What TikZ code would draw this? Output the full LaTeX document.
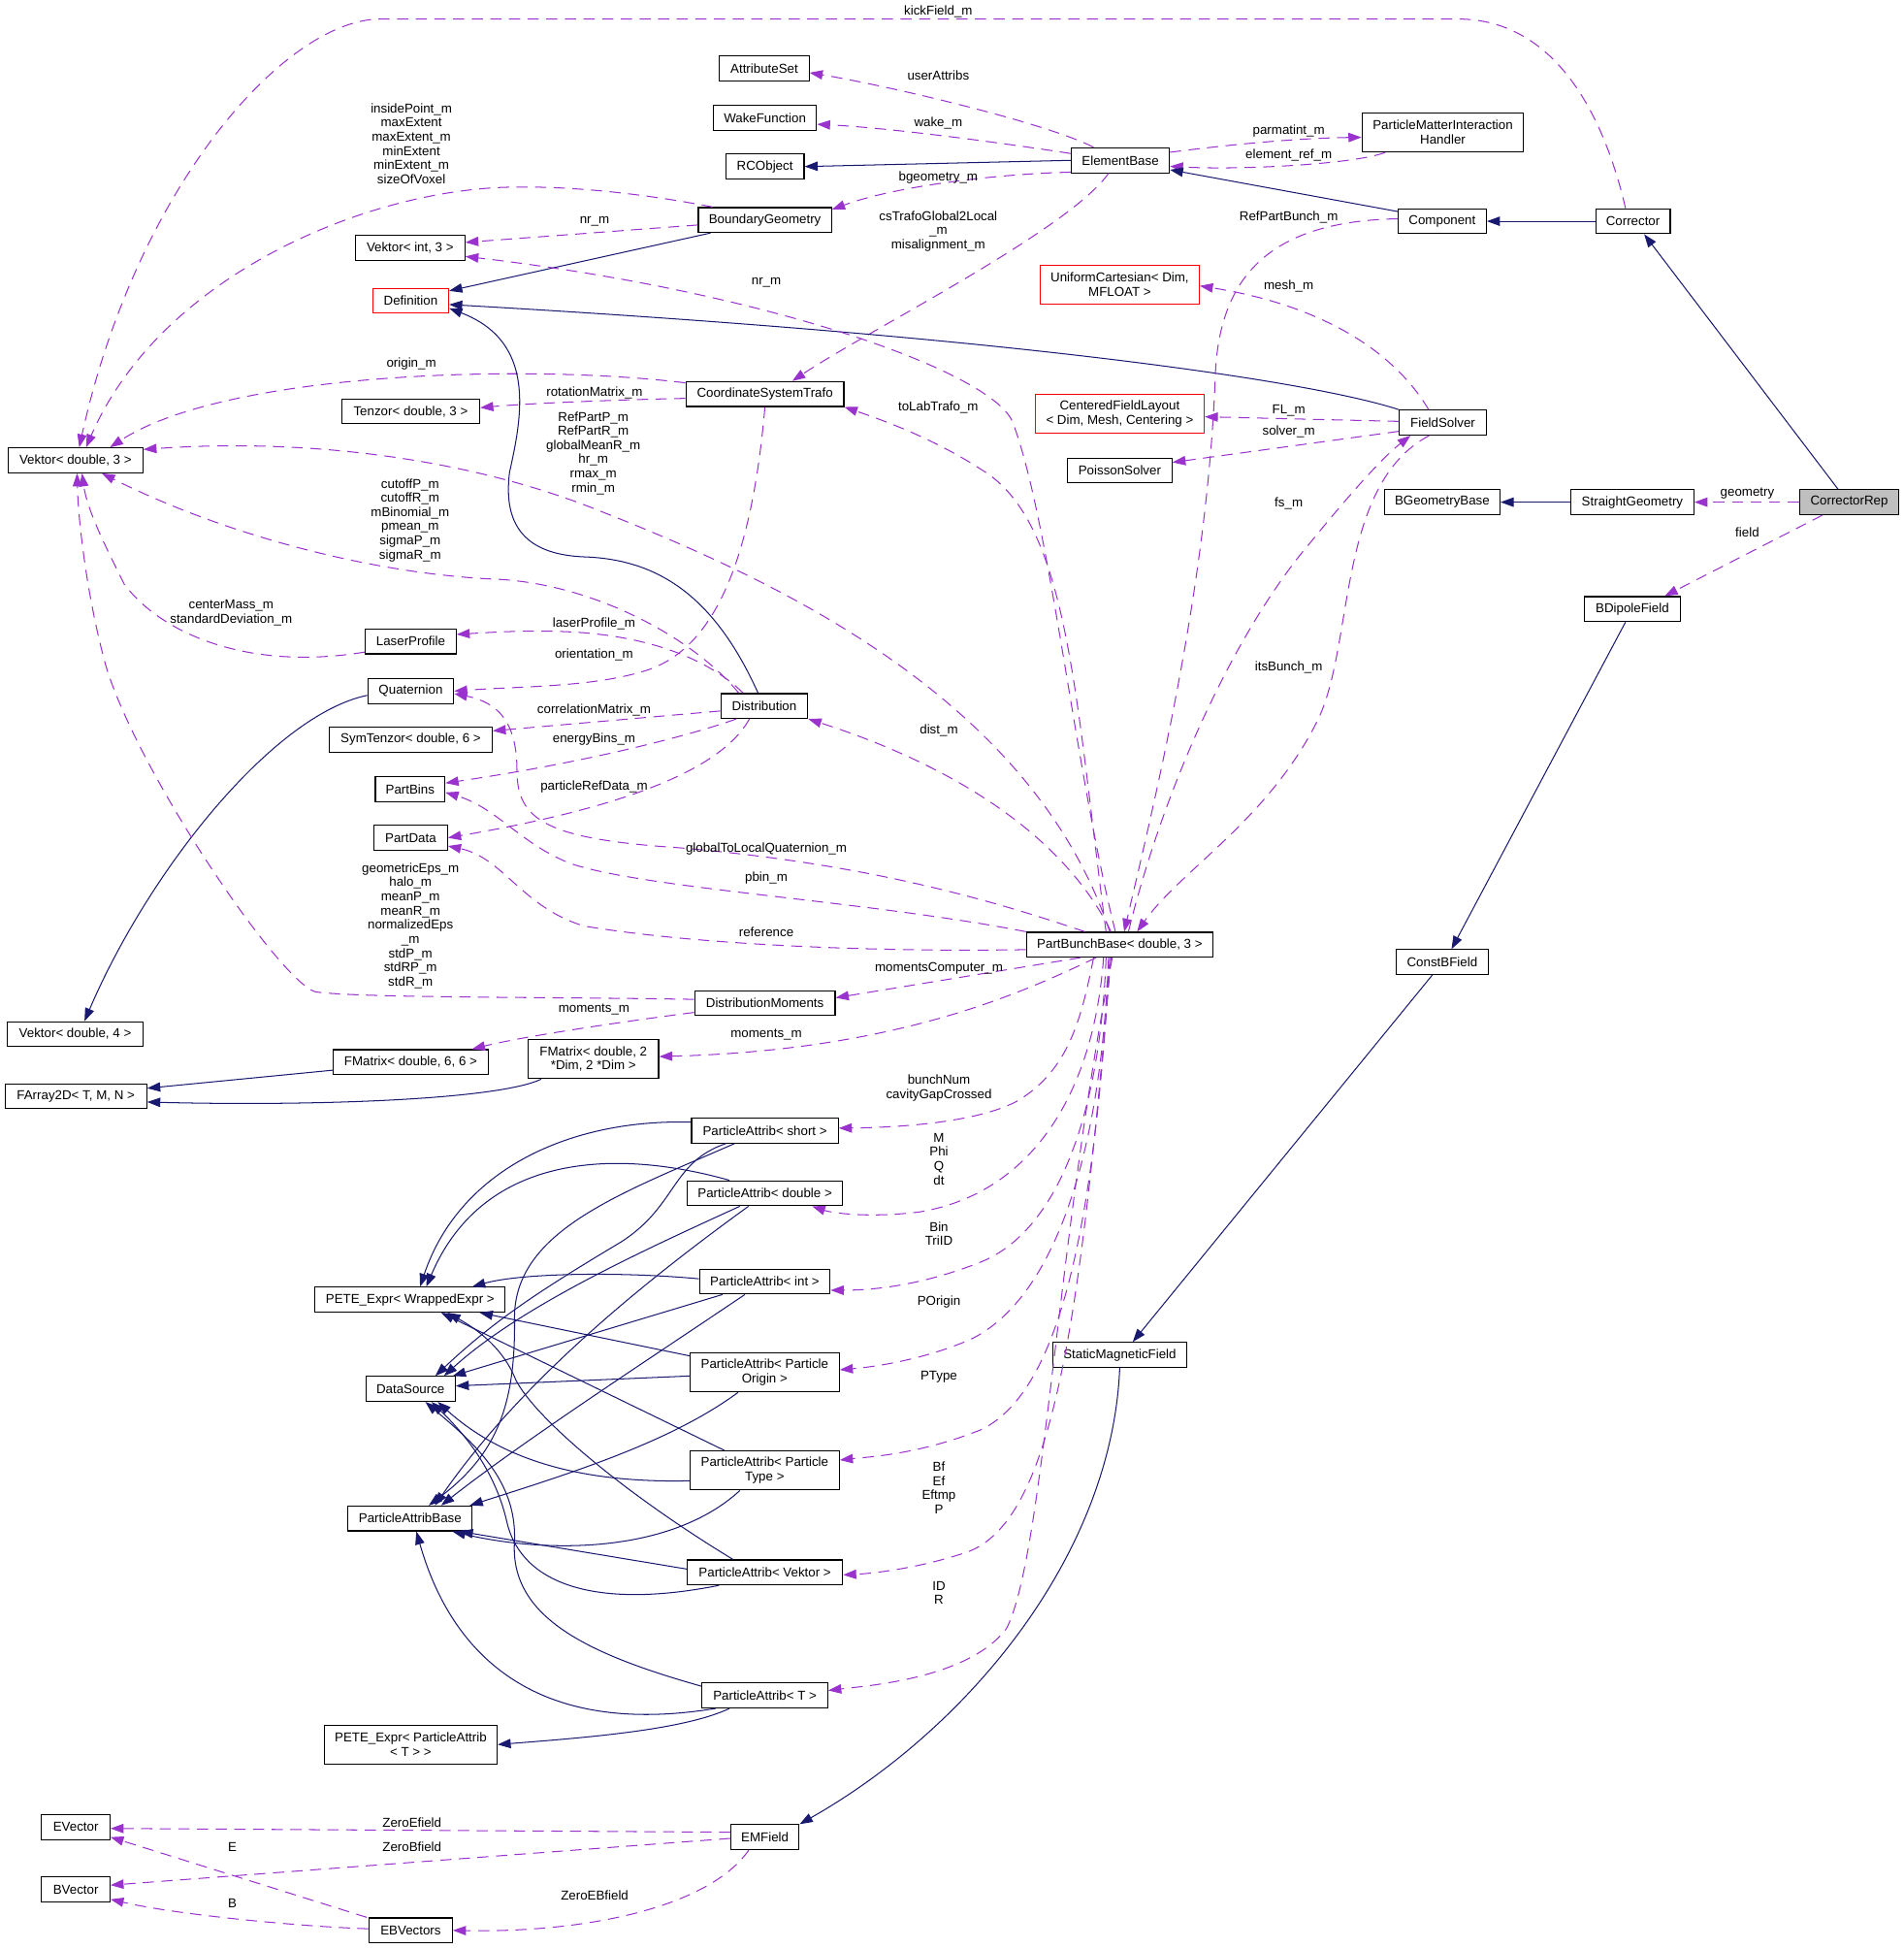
\documentclass[tikz,border=0pt]{standalone}
\usepackage{fontspec}
\setmainfont{Liberation Sans}
\usetikzlibrary{arrows.meta}
\definecolor{navyedge}{HTML}{191970}
\definecolor{orchidedge}{HTML}{9A32CD}
\definecolor{focusgray}{HTML}{BFBFBF}
\newcommand{\dxfont}{\fontsize{10.4pt}{11.4pt}\selectfont}
\tikzset{
  class box/.style = {draw=black, line width=0.9pt, fill=white, inner xsep=3pt,
                      inner ysep=2pt, minimum height=20pt, align=center, font=\dxfont},
  trunc box/.style = {class box, draw=red},
  focus box/.style = {class box, fill=focusgray},
  two line/.style  = {minimum height=31.5pt},
  inherit/.style   = {color=navyedge, line width=0.8pt, -{Triangle[length=10.5pt,width=7.5pt]}},
  member/.style    = {color=orchidedge, line width=0.8pt, dash pattern=on 9pt off 6pt,
                      -{Triangle[length=10.5pt,width=7.5pt]}},
  mlabel/.style    = {font=\dxfont, align=center, inner sep=0pt},
}

\begin{document}
\begin{tikzpicture}[x=1pt,y=-1pt]
  \useasboundingbox (0,0) rectangle (1532,1568);

  % classes, upper part
  \node[class box, minimum width=72pt]  (attrset)   at (615,55)    {AttributeSet};
  \node[class box, minimum width=83pt]  (wakefn)    at (615.5,95)  {WakeFunction};
  \node[class box, minimum width=63pt]  (rcobj)     at (615.5,134) {RCObject};
  \node[class box, minimum width=79pt]  (elembase)  at (901.5,129) {ElementBase};
  \node[class box, two line, minimum width=130pt] (pmih) at (1161,106.5) {ParticleMatterInteraction\\Handler};
  \node[class box, minimum width=107pt] (bgeom)     at (615.5,177) {BoundaryGeometry};
  \node[class box, minimum width=88pt]  (vint3)     at (330,199.5) {Vektor< int, 3 >};
  \node[trunc box, minimum width=61pt]  (defn)      at (330.5,242) {Definition};
  \node[class box, minimum width=71pt]  (component) at (1160.5,178) {Component};
  \node[class box, minimum width=60pt]  (corrector) at (1314,178)  {Corrector};
  \node[trunc box, two line, minimum width=128pt] (unicart) at (901,229) {UniformCartesian< Dim,\\MFLOAT >};
  \node[class box, minimum width=127pt] (cstrafo)   at (615.5,317) {CoordinateSystemTrafo};
  \node[class box, minimum width=111pt] (tenzor3)   at (330.5,331) {Tenzor< double, 3 >};
  \node[class box, minimum width=108.5pt] (vdbl3)   at (60.75,370.35) {Vektor< double, 3 >};
  \node[trunc box, two line, minimum width=136pt] (cflayout) at (901,333) {CenteredFieldLayout\\< Dim, Mesh, Centering >};
  \node[class box, minimum width=84pt]  (poisson)   at (901,378.5) {PoissonSolver};
  \node[class box, minimum width=70pt]  (fsolver)   at (1161,340)  {FieldSolver};
  \node[class box, minimum width=93pt]  (bgeombase) at (1160.5,404) {BGeometryBase};
  \node[class box, minimum width=99pt]  (straightgeom) at (1313.5,404) {StraightGeometry};
  \node[focus box, minimum width=80pt]  (corrrep)   at (1488,404)  {CorrectorRep};
  \node[class box, minimum width=77pt]  (bdipole)   at (1313.5,490) {BDipoleField};

  % classes, middle part
  \node[class box, minimum width=73pt]  (laserprof) at (330.5,516) {LaserProfile};
  \node[class box, minimum width=69pt]  (quatern)   at (330.5,556) {Quaternion};
  \node[class box, minimum width=70pt]  (distrib)   at (615,568)   {Distribution};
  \node[class box, minimum width=131pt] (symtenz)   at (330.5,595) {SymTenzor< double, 6 >};
  \node[class box, minimum width=56pt]  (partbins)  at (330,635)   {PartBins};
  \node[class box, minimum width=59pt]  (partdata)  at (330.5,674) {PartData};
  \node[class box, minimum width=150pt] (pbb)       at (901,760)   {PartBunchBase< double, 3 >};
  \node[class box, minimum width=74pt]  (constb)    at (1160.5,774) {ConstBField};
  \node[class box, minimum width=113pt] (distmom)   at (615.5,807) {DistributionMoments};
  \node[class box, minimum width=109pt] (vdbl4)     at (60.5,832)  {Vektor< double, 4 >};
  \node[class box, minimum width=125pt] (fmat66)    at (330.5,854.5) {FMatrix< double, 6, 6 >};
  \node[class box, two line, minimum width=105pt] (fmat2d) at (477.5,852) {FMatrix< double, 2\\*Dim, 2 *Dim >};
  \node[class box, minimum width=114pt] (farray)    at (61,882)    {FArray2D< T, M, N >};

  % classes, lower part
  \node[class box, minimum width=118pt] (pashort)   at (615.5,909.5) {ParticleAttrib< short >};
  \node[class box, minimum width=125pt] (padouble)  at (615.5,960)  {ParticleAttrib< double >};
  \node[class box, minimum width=153pt] (pete)      at (330,1045.6) {PETE\_Expr< WrappedExpr >};
  \node[class box, minimum width=105pt] (paint)     at (615.4,1031) {ParticleAttrib< int >};
  \node[class box, minimum width=72pt]  (datasrc)   at (330.3,1117.4) {DataSource};
  \node[class box, two line, minimum width=120pt] (paorigin) at (615.3,1104) {ParticleAttrib< Particle\\Origin >};
  \node[class box, minimum width=108pt] (staticmag) at (901,1090)   {StaticMagneticField};
  \node[class box, two line, minimum width=120pt] (patype) at (615.3,1183) {ParticleAttrib< Particle\\Type >};
  \node[class box, minimum width=100pt] (pabase)    at (330,1221.6) {ParticleAttribBase};
  \node[class box, minimum width=125pt] (pavektor)  at (615.5,1265) {ParticleAttrib< Vektor >};
  \node[class box, minimum width=101pt] (pat)       at (615.5,1364) {ParticleAttrib< T >};
  \node[class box, two line, minimum width=139pt] (petepat) at (330.5,1403.5) {PETE\_Expr< ParticleAttrib\\< T > >};
  \node[class box, minimum width=55pt]  (evector)   at (61,1470)    {EVector};
  \node[class box, minimum width=55pt]  (emfield)   at (615.5,1478) {EMField};
  \node[class box, minimum width=55pt]  (bvector)   at (61,1520)    {BVector};
  \node[class box, minimum width=67pt]  (ebvectors) at (330.5,1553) {EBVectors};

  % ElementBase
  \draw[member] ([xshift=-21.5pt]elembase.north) .. controls (845,100) and (720,70) .. ([yshift=-3.5pt]attrset.east);
  \draw[member] ([yshift=5.5pt]elembase.west) .. controls (820,117) and (720,103) .. ([yshift=-5pt]wakefn.east);
  \draw[inherit] (elembase.west) -- (rcobj.east);
  \draw[member] ([yshift=-9.5pt]elembase.west) .. controls (800,140) and (720,150) .. ([yshift=-2pt]bgeom.north east);
  \draw[member] ([xshift=-9.5pt]elembase.south) .. controls (860,185) and (700,265) .. ([xshift=22pt]cstrafo.north);
  \draw[member] ([yshift=6.5pt]elembase.east) .. controls (1000,115) and (1050,111) .. ([yshift=-4pt]pmih.west);
  \draw[member] ([xshift=19pt]pmih.south west) .. controls (1090,132) and (1000,137) .. ([yshift=-4.8pt]elembase.east);
  \draw[inherit] ([yshift=-2.6pt]component.north west) -- ([yshift=-7.6pt]elembase.east);
  \draw[inherit] (corrector.west) -- (component.east);

  % Corrector and CorrectorRep
  \draw[member] ([xshift=-6pt]corrector.north) .. controls (1290,90) and (1250,15.3) .. (1173,15.3)
                -- (306.6,15.3) .. controls (230,15) and (110,150) .. ([xshift=3pt]vdbl3.north);
  \draw[inherit] ([xshift=-9pt]corrrep.north) -- ([xshift=9pt]corrector.south);
  \draw[member] (corrrep.west) -- (straightgeom.east);
  \draw[member] ([xshift=-21.5pt]corrrep.south) -- ([xshift=26pt]bdipole.north);
  \draw[inherit] (straightgeom.west) -- (bgeombase.east);
  \draw[inherit] ([xshift=-5.5pt]bdipole.south) -- ([xshift=7.5pt]constb.north);
  \draw[inherit] ([xshift=-8pt]constb.south) -- ([xshift=10.5pt]staticmag.north);
  \draw[inherit] (staticmag.south) .. controls (895,1250) and (780,1390) .. (emfield.north east);

  % FieldSolver
  \draw[inherit] (fsolver.north west) .. controls (1050,305) and (800,270) .. ([yshift=-3pt]defn.east);
  \draw[member] ([xshift=-11.4pt]fsolver.north) .. controls (1120,280) and (1060,245) .. ([yshift=-1pt]unicart.east);
  \draw[member] ([yshift=1pt]fsolver.west) -- ([yshift=-2.3pt]cflayout.east);
  \draw[member] ([yshift=-7pt]fsolver.west) -- ([yshift=6.5pt]poisson.east);
  \draw[member] ([xshift=7pt]pbb.north) .. controls (940,620) and (1000,500) .. (1054,437)
                .. controls (1080,405) and (1110,370) .. ([xshift=-26pt]fsolver.south);
  \draw[member] ([xshift=-11pt]fsolver.south) .. controls (1075,390) and (1090,520) .. (1060,580)
                .. controls (1020,660) and (950,700) .. ([xshift=14pt]pbb.north);
  \draw[member] ([yshift=2pt]component.west) .. controls (1030,178) and (982,215) .. (978,300)
                .. controls (972,470) and (930,640) .. ([xshift=3.6pt]pbb.north);

  % BoundaryGeometry
  \draw[inherit] ([xshift=-43.7pt]bgeom.south) -- ([yshift=8pt]defn.east);
  \draw[member] ([yshift=-4pt]bgeom.west) -- ([yshift=4.5pt]vint3.east);
  \draw[member] ([xshift=-42pt]bgeom.north) .. controls (530,158) and (470,150) .. (418,150.5)
                .. controls (300,150) and (130,220) .. ([xshift=8.5pt]vdbl3.north);

  % CoordinateSystemTrafo
  \draw[member] ([yshift=9pt]cstrafo.west) .. controls (420,292) and (180,300) .. ([xshift=27.75pt]vdbl3.north);
  \draw[member] ([yshift=-3.5pt]cstrafo.west) .. controls (480,322) and (420,325) .. ([yshift=3pt]tenzor3.east);
  \draw[member] (cstrafo.south) .. controls (605,450) and (575,520) .. (522.6,538.5)
                .. controls (480,553) and (420,552) .. (quatern.east);

  % PartBunchBase, upper members
  \draw[member] ([xshift=-3.5pt]pbb.north) .. controls (865,620) and (845,420) .. (815,340)
                .. controls (800,300) and (620,235) .. ([yshift=-6.8pt]vint3.east);
  \draw[member] ([xshift=-11pt]pbb.north) .. controls (865,560) and (860,420) .. (790,378)
                .. controls (750,352) and (710,338) .. (cstrafo.south east);
  \draw[member] ([xshift=-8pt]pbb.north) .. controls (830,560) and (620,465) .. (480,410)
                .. controls (380,370) and (250,352) .. ([yshift=8.75pt]vdbl3.east);
  \draw[member] ([xshift=-7pt]pbb.north) .. controls (860,680) and (780,620) .. (distrib.south east);
  \draw[member] ([xshift=-28pt]pbb.north) .. controls (800,725) and (700,695) .. (546,682)
                .. controls (440,675) and (416,660) .. (416,620)
                .. controls (416,580) and (400,565) .. ([yshift=-2pt]quatern.east);
  \draw[member] (pbb.north west) .. controls (700,725) and (520,715) .. (460,695)
                .. controls (420,680) and (400,650) .. ([yshift=-2.5pt]partbins.east);
  \draw[member] ([yshift=-4pt]pbb.west) .. controls (700,766) and (560,760) .. (470,745)
                .. controls (420,730) and (405,690) .. ([yshift=-6.6pt]partdata.east);
  \draw[member] ([xshift=-31.6pt]pbb.south) -- ([yshift=4.3pt]distmom.east);
  \draw[member] ([xshift=-19pt]pbb.south) .. controls (820,800) and (720,845) .. ([yshift=2pt]fmat2d.east);

  % Distribution
  \draw[inherit] ([xshift=-5pt]distrib.north) .. controls (575,480) and (530,450) .. (470,448)
                 .. controls (420,446) and (405,420) .. (410,380)
                 .. controls (420,335) and (432,275) .. ([yshift=-6pt]defn.east);
  \draw[member] ([xshift=-20.6pt]distrib.north) .. controls (560,515) and (480,470) .. (400,466)
                .. controls (300,462) and (180,430) .. ([xshift=21.25pt]vdbl3.south);
  \draw[member] ([xshift=-17pt]distrib.north) .. controls (570,530) and (520,510) .. (450,508)
                .. controls (420,507) and (390,509) .. ([yshift=5.6pt]laserprof.east);
  \draw[member] ([yshift=-4pt]distrib.west) -- ([yshift=7pt]symtenz.east);
  \draw[member] ([xshift=-22.6pt]distrib.south) .. controls (560,590) and (480,612) .. ([yshift=5pt]partbins.east);
  \draw[member] ([xshift=-12pt]distrib.south) .. controls (580,620) and (500,650) .. (partdata.east);

  % LaserProfile, Quaternion, DistributionMoments
  \draw[member] ([yshift=-8.6pt]laserprof.west) .. controls (200,540) and (130,510) .. (100,470)
                .. controls (85,440) and (70,410) .. ([xshift=5.25pt]vdbl3.south);
  \draw[inherit] ([yshift=-3.4pt]quatern.west) .. controls (220,575) and (120,700) .. ([xshift=7.5pt]vdbl4.north);
  \draw[member] ([yshift=3pt]distmom.west) .. controls (450,802) and (290,803) .. (254,798)
                .. controls (225,790) and (110,620) .. (85,535)
                .. controls (70,480) and (63,420) .. ([xshift=1.25pt]vdbl3.south);
  \draw[member] ([yshift=-7.5pt]distmom.west) .. controls (500,822) and (420,834) .. ([xshift=49.3pt]fmat66.north);

  % FMatrix
  \draw[inherit] ([yshift=-6.5pt]fmat66.west) -- ([yshift=6.5pt]farray.east);
  \draw[inherit] ([xshift=-42pt]fmat2d.south) .. controls (400,885) and (250,890) .. ([yshift=-4.6pt]farray.east);

  % PartBunchBase, particle attributes
  \draw[member] ([xshift=-21pt]pbb.south) .. controls (870,820) and (860,860) .. (820,885)
                .. controls (790,902) and (730,907) .. ([yshift=1.9pt]pashort.east);
  \draw[member] ([xshift=-13pt]pbb.south) .. controls (880,880) and (830,960) .. (740,975)
                .. controls (700,980) and (670,976) .. ([xshift=38pt]padouble.south);
  \draw[member] ([xshift=-11pt]pbb.south) .. controls (885,900) and (850,990) .. (790,1015)
                .. controls (740,1035) and (700,1038) .. ([yshift=-7pt]paint.east);
  \draw[member] ([xshift=-9pt]pbb.south) .. controls (885,950) and (840,1050) .. (780,1078)
                .. controls (740,1095) and (700,1100) .. ([yshift=2pt]paorigin.east);
  \draw[member] ([xshift=-8pt]pbb.south) .. controls (880,1000) and (850,1120) .. (790,1150)
                .. controls (740,1170) and (700,1172) .. ([yshift=8.4pt]patype.east);
  \draw[member] ([xshift=-7pt]pbb.south) .. controls (870,1050) and (850,1220) .. (780,1248)
                .. controls (740,1262) and (700,1266) .. ([yshift=-2pt]pavektor.east);
  \draw[member] ([xshift=-6pt]pbb.south) .. controls (850,1000) and (840,1250) .. (810,1310)
                .. controls (780,1350) and (700,1356) .. ([yshift=4pt]pat.east);

  % ParticleAttrib bases
  \draw[inherit] ([yshift=6.7pt]pashort.west) .. controls (460,900) and (370,940) .. ([xshift=8pt]pete.north);
  \draw[inherit] ([xshift=-28.5pt]padouble.north) .. controls (500,925) and (390,925) .. ([xshift=13pt]pete.north);
  \draw[inherit] ([yshift=2.2pt]paint.west) .. controls (500,1023) and (420,1024) .. ([xshift=50pt]pete.north);
  \draw[inherit] ([yshift=-3pt]paorigin.north west) -- ([xshift=56pt]pete.south);
  \draw[inherit] ([xshift=-32.5pt]patype.north) -- ([xshift=25pt]pete.south);
  \draw[inherit] ([xshift=-25.7pt]pavektor.north) .. controls (500,1200) and (430,1140) .. (415,1110)
                 .. controls (405,1085) and (385,1070) .. ([xshift=30pt]pete.south);
  \draw[inherit] ([xshift=-31.3pt]pashort.south) .. controls (540,935) and (545,970) .. (500,999)
                 .. controls (440,1035) and (400,1060) .. ([xshift=20pt]datasrc.north);
  \draw[inherit] ([xshift=-20.2pt]padouble.south) .. controls (520,1005) and (420,1050) .. ([xshift=27pt]datasrc.north);
  \draw[inherit] ([xshift=-34pt]paint.south) -- ([xshift=34pt]datasrc.north);
  \draw[inherit] ([yshift=-3pt]paorigin.west) -- ([yshift=2.4pt]datasrc.east);
  \draw[inherit] ([yshift=-8.3pt]patype.west) .. controls (480,1193) and (410,1180) .. ([xshift=22pt]datasrc.south);
  \draw[inherit] ([xshift=-36.9pt]pavektor.south) .. controls (480,1295) and (420,1275) .. (408,1225)
                 .. controls (398,1180) and (370,1150) .. ([xshift=17pt]datasrc.south);
  \draw[inherit] ([yshift=7.4pt]pat.west) .. controls (470,1330) and (410,1300) .. (414,1240)
                 .. controls (416,1190) and (380,1160) .. ([xshift=12pt]datasrc.south);
  \draw[inherit] ([xshift=-24.3pt]pashort.south) .. controls (500,960) and (414,990) .. (414,1060)
                 .. controls (415,1130) and (400,1170) .. ([xshift=15pt]pabase.north);
  \draw[inherit] ([xshift=-13.2pt]padouble.south) .. controls (520,1030) and (420,1110) .. ([xshift=20pt]pabase.north);
  \draw[inherit] ([xshift=-16pt]paint.south) .. controls (520,1095) and (420,1160) .. ([xshift=25pt]pabase.north);
  \draw[inherit] ([xshift=-21.4pt]paorigin.south) .. controls (540,1160) and (460,1185) .. ([xshift=48pt]pabase.north);
  \draw[inherit] ([xshift=-20pt]patype.south) .. controls (540,1250) and (440,1250) .. ([xshift=34pt]pabase.south);
  \draw[inherit] ([yshift=2.7pt]pavektor.west) -- ([xshift=40pt]pabase.south);
  \draw[inherit] ([xshift=-39.7pt]pat.south) .. controls (420,1400) and (360,1320) .. ([xshift=5pt]pabase.south);
  \draw[inherit] ([xshift=-28.5pt]pat.south) .. controls (550,1392) and (470,1398) .. (petepat.east);

  % EMField
  \draw[member] ([yshift=4pt]emfield.west) -- ([yshift=-1pt]evector.east);
  \draw[member] ([yshift=-1pt]emfield.west) -- ([yshift=3.4pt]bvector.east);
  \draw[member] ([xshift=-13pt]emfield.south) .. controls (570,1535) and (470,1555) .. (ebvectors.east);
  \draw[member] ([xshift=-1.3pt]ebvectors.north west) -- ([yshift=-8pt]evector.east);
  \draw[member] ([yshift=1.3pt]ebvectors.west) .. controls (240,1550) and (140,1540) .. ([yshift=-8pt]bvector.east);

  % member labels
  \node[mlabel] (l-kick)   at (755,9)       {kickField\_m};
  \node[mlabel] (l-uattr)  at (755,61)      {userAttribs};
  \node[mlabel] (l-wake)   at (755,99)      {wake\_m};
  \node[mlabel] (l-parm)   at (1037,105.4)  {parmatint\_m};
  \node[mlabel] (l-eref)   at (1037,124.6)  {element\_ref\_m};
  \node[mlabel] (l-bgeo)   at (755,143)     {bgeometry\_m};
  \node[mlabel] (l-inside) at (331,115.6)   {insidePoint\_m\\maxExtent\\maxExtent\_m\\minExtent\\minExtent\_m\\sizeOfVoxel};
  \node[mlabel] (l-nrbg)   at (478.4,178.4) {nr\_m};
  \node[mlabel] (l-cstr)   at (755,186)     {csTrafoGlobal2Local\\\_m\\misalignment\_m};
  \node[mlabel] (l-rpb)    at (1037,174.5)  {RefPartBunch\_m};
  \node[mlabel] (l-nrpb)   at (616.6,227)   {nr\_m};
  \node[mlabel] (l-mesh)   at (1037,230)    {mesh\_m};
  \node[mlabel] (l-orig)   at (331,293)     {origin\_m};
  \node[mlabel] (l-rot)    at (478.4,315.8) {rotationMatrix\_m};
  \node[mlabel] (l-tolab)  at (755,328)     {toLabTrafo\_m};
  \node[mlabel] (l-fl)     at (1037,330)    {FL\_m};
  \node[mlabel] (l-solver) at (1037,347)    {solver\_m};
  \node[mlabel] (l-refp)   at (477.4,364.6) {RefPartP\_m\\RefPartR\_m\\globalMeanR\_m\\hr\_m\\rmax\_m\\rmin\_m};
  \node[mlabel] (l-fs)     at (1037,404.7)  {fs\_m};
  \node[mlabel] (l-geom)   at (1406,397)    {geometry};
  \node[mlabel] (l-field)  at (1406,428)    {field};
  \node[mlabel] (l-cutoff) at (330,418.5)   {cutoffP\_m\\cutoffR\_m\\mBinomial\_m\\pmean\_m\\sigmaP\_m\\sigmaR\_m};
  \node[mlabel] (l-cmass)  at (186,493)     {centerMass\_m\\standardDeviation\_m};
  \node[mlabel] (l-laser)  at (478,502)     {laserProfile\_m};
  \node[mlabel] (l-orient) at (478,527)     {orientation\_m};
  \node[mlabel] (l-bunch)  at (1037,537)    {itsBunch\_m};
  \node[mlabel] (l-corr)   at (478,571)     {correlationMatrix\_m};
  \node[mlabel] (l-dist)   at (755.5,588)   {dist\_m};
  \node[mlabel] (l-ebins)  at (478,595)     {energyBins\_m};
  \node[mlabel] (l-pref)   at (478,633)     {particleRefData\_m};
  \node[mlabel] (l-gtlq)   at (616.6,682.6) {globalToLocalQuaternion\_m};
  \node[mlabel] (l-pbin)   at (616.6,706)   {pbin\_m};
  \node[mlabel] (l-geps)   at (330.3,744.8) {geometricEps\_m\\halo\_m\\meanP\_m\\meanR\_m\\normalizedEps\\\_m\\stdP\_m\\stdRP\_m\\stdR\_m};
  \node[mlabel] (l-ref)    at (616.6,750)   {reference};
  \node[mlabel] (l-mcomp)  at (755.5,779)   {momentsComputer\_m};
  \node[mlabel] (l-mom1)   at (478,812)     {moments\_m};
  \node[mlabel] (l-mom2)   at (616.6,832.6) {moments\_m};
  \node[mlabel] (l-short)  at (755.5,875.3) {bunchNum\\cavityGapCrossed};
  \node[mlabel] (l-double) at (755.5,932.4) {M\\Phi\\Q\\dt};
  \node[mlabel] (l-int)    at (755.5,992.5) {Bin\\TriID};
  \node[mlabel] (l-porig)  at (755.5,1047.8) {POrigin};
  \node[mlabel] (l-ptype)  at (755.5,1108)  {PType};
  \node[mlabel] (l-vekt)   at (755.5,1197)  {Bf\\Ef\\Eftmp\\P};
  \node[mlabel] (l-t)      at (755.5,1281.5) {ID\\R};
  \node[mlabel] (l-zeroe)  at (331.5,1466)  {ZeroEfield};
  \node[mlabel] (l-zerob)  at (331.5,1486)  {ZeroBfield};
  \node[mlabel] (l-e)      at (187,1486)    {E};
  \node[mlabel] (l-b)      at (187,1531)    {B};
  \node[mlabel] (l-zeroeb) at (478.5,1525)  {ZeroEBfield};
\end{tikzpicture}
\end{document}
